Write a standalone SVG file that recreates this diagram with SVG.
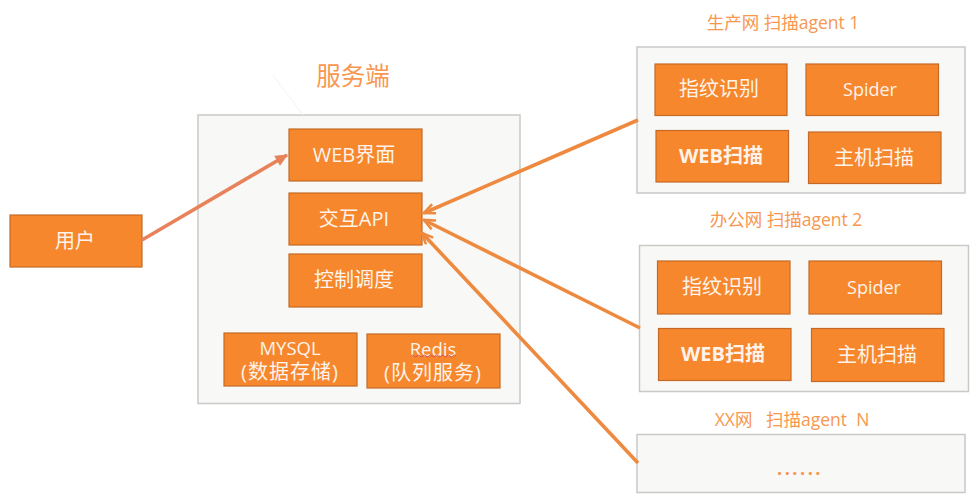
<svg xmlns="http://www.w3.org/2000/svg" width="977" height="500" viewBox="0 0 977 500">
<style>
text{font-family:"Open Sans","Noto Sans CJK SC",sans-serif;text-anchor:middle;dominant-baseline:central}
.p{fill:#f8f8f6;stroke:#c9c9c7;stroke-width:1.5}
.b{fill:#f6872c;stroke:#c56a26;stroke-width:1.2}
.t{fill:#fdf3ea;font-size:20px}
.o{fill:#f8974f;font-size:17.500px}
.c{fill:none;stroke:#ee8a3f;stroke-width:3.600}
</style>
<defs>
<marker id="a" markerUnits="userSpaceOnUse" markerWidth="14" markerHeight="12" refX="12" refY="6" orient="auto"><path d="M1 1L12 6L1 11" fill="none" stroke="#ee8a3f" stroke-width="2.600"/></marker>
<marker id="u" markerUnits="userSpaceOnUse" markerWidth="14" markerHeight="12" refX="12" refY="6" orient="auto"><path d="M1 1L12 6L1 11Z" fill="#e8825a" stroke="#e8825a"/></marker>
</defs>
<g id="server-panel">
<rect class="p" x="198" y="115" width="322" height="288.500"/>
<text x="353" y="75" fill="#f8974f" font-size="24.500">服务端</text>
<path d="M273 75L303 115" stroke="#f3f3f1" fill="none"/>
</g>
<g id="user"><rect class="b" x="10" y="215" width="132" height="52"/><text class="t" x="75" y="240">用户</text></g>
<g id="web-ui"><rect class="b" x="289" y="129" width="133" height="52"/><text class="t" x="354" y="154">WEB界面</text></g>
<g id="api"><rect class="b" x="289" y="193" width="133" height="52"/><text class="t" x="354" y="218">交互API</text></g>
<g id="scheduler"><rect class="b" x="289" y="254" width="133" height="53"/><text class="t" x="354" y="279">控制调度</text></g>
<g id="mysql"><rect class="b" x="224" y="333" width="133" height="53"/><text class="t" x="290" y="347" style="font-size:18.500px">MYSQL</text><text class="t" x="290" y="371" style="font-size:20px;letter-spacing:1px">(数据存储)</text></g>
<g id="redis"><rect class="b" x="367" y="334" width="133" height="54"/><text class="t" x="433" y="348" style="font-size:18.500px">Redis</text><path d="M411 356q1.500-2 3-0t3 0t3 0t3 0t3 0t3 0t3 0t3 0t3 0t3 0t3 0t3 0t3 0t3 0t3 0" fill="none" stroke="#d9534f" stroke-width="1"/><text class="t" x="433" y="372" style="font-size:20px;letter-spacing:1px">(队列服务)</text></g>
<g id="agent-1-panel"><rect class="p" x="637" y="47" width="328" height="146"/><text class="o" x="783" y="22">生产网 扫描agent 1</text></g>
<g id="a1-fingerprint"><rect class="b" x="655" y="64" width="132" height="51.500"/><text class="t" x="719" y="88">指纹识别</text></g>
<g id="a1-spider"><rect class="b" x="806" y="64" width="132.500" height="51.500"/><text class="t" x="870" y="89" style="font-size:18px">Spider</text></g>
<g id="a1-web"><rect class="b" x="656" y="130.500" width="132.500" height="51.500"/><text class="t" x="721" y="155" style="font-weight:700">WEB扫描</text></g>
<g id="a1-host"><rect class="b" x="808.500" y="132" width="132.500" height="51.500"/><text class="t" x="874" y="157">主机扫描</text></g>
<g id="agent-2-panel"><rect class="p" x="639.500" y="245.500" width="329" height="146"/><text class="o" x="786" y="219">办公网 扫描agent 2</text></g>
<g id="a2-fingerprint"><rect class="b" x="657.500" y="261" width="132.500" height="53"/><text class="t" x="722" y="286">指纹识别</text></g>
<g id="a2-spider"><rect class="b" x="809" y="261" width="132.500" height="53"/><text class="t" x="874" y="287" style="font-size:18px">Spider</text></g>
<g id="a2-web"><rect class="b" x="658.500" y="328.500" width="132.500" height="52"/><text class="t" x="723" y="353" style="font-weight:700">WEB扫描</text></g>
<g id="a2-host"><rect class="b" x="811.500" y="328.500" width="132.500" height="53"/><text class="t" x="877" y="354">主机扫描</text></g>
<g id="agent-n-panel"><rect class="p" x="637" y="434.500" width="328" height="58"/><text class="o" x="792" y="419" xml:space="preserve">XX网   扫描agent  N</text><text x="800" y="468" fill="#f8974f" font-size="18" font-weight="700" letter-spacing="2.500">......</text></g>
<g id="connectors">
<path class="c" d="M142 240L287 155" style="stroke:#e8825a" marker-end="url(#u)"/>
<path class="c" d="M638 120L424 213" marker-end="url(#a)"/>
<path class="c" d="M640 328L424 220" marker-end="url(#a)"/>
<path class="c" d="M638 463L422 233" marker-end="url(#a)"/>
</g>
</svg>
